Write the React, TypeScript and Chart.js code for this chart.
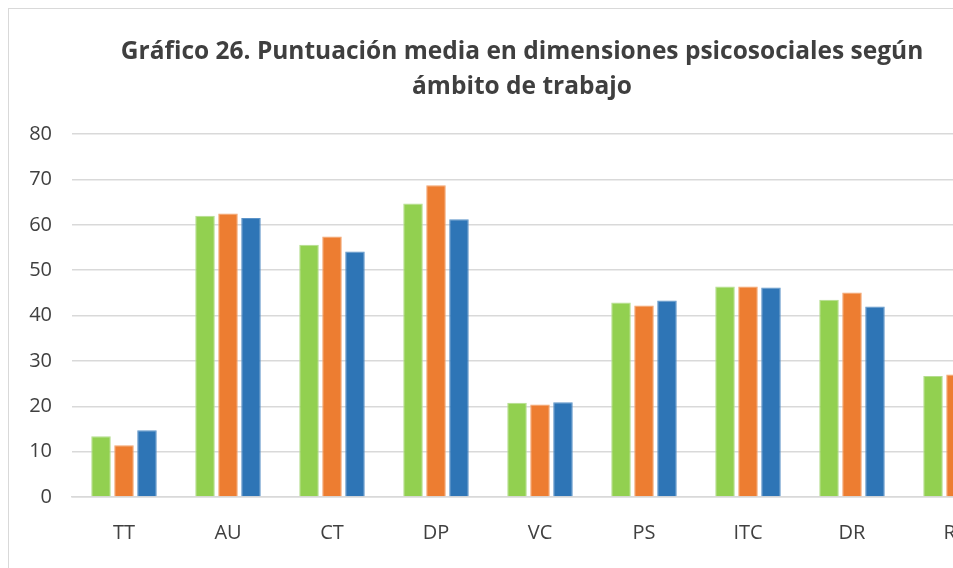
import React, { useEffect, useRef } from "react";
import { Chart, registerables } from "chart.js";

Chart.register(...registerables);

const categories = ["TT", "AU", "CT", "DP", "VC", "PS", "ITC", "DR", "RA"];
const serieVerde = [13.4, 62.0, 55.6, 64.7, 20.8, 42.9, 46.4, 43.5, 26.7];
const serieNaranja = [11.4, 62.5, 57.4, 68.7, 20.4, 42.2, 46.4, 45.1, 27.0];
const serieAzul = [14.7, 61.5, 54.1, 61.2, 20.9, 43.3, 46.2, 42.0, 25.6];
const yTicks = [0, 10, 20, 30, 40, 50, 60, 70, 80];
const titleLines = [
  "Gráfico 26. Puntuación media en dimensiones psicosociales según",
  "ámbito de trabajo",
];

const titleShift = {
  id: "titleShift",
  afterLayout(chart: any) {
    if (chart.titleBlock) chart.titleBlock.left += 27;
  },
};

export default function App() {
  const ref = useRef<HTMLCanvasElement | null>(null);
  useEffect(() => {
    if (!ref.current) return;
    const font = "'Open Sans', 'DejaVu Sans', sans-serif";
    const chart = new Chart(ref.current, {
      type: "bar",
      data: {
        labels: categories,
        datasets: [
          { label: "Serie 1", data: serieVerde, backgroundColor: "#92D050", borderColor: "#B4DD8E", borderWidth: 1 },
          { label: "Serie 2", data: serieNaranja, backgroundColor: "#ED7D31", borderColor: "#F3A36E", borderWidth: 1 },
          { label: "Serie 3", data: serieAzul, backgroundColor: "#2E75B6", borderColor: "#5B93C8", borderWidth: 1 },
        ],
      },
      plugins: [titleShift],
      options: {
        animation: false,
        responsive: false,
        maintainAspectRatio: false,
        layout: { padding: { left: 0, right: 29, top: 0, bottom: 20 } },
        datasets: { bar: { categoryPercentage: 0.663, barPercentage: 0.85 } },
        plugins: {
          legend: { display: false },
          tooltip: { enabled: false },
          title: {
            display: true,
            text: titleLines,
            color: "#3F3F3F",
            font: { family: font, size: 24.5, weight: "bold", lineHeight: 1.42 },
            padding: { top: 26, bottom: 29.5 },
          },
        },
        scales: {
          x: {
            grid: { display: false, drawTicks: false },
            border: { display: true, color: "#D9D9D9", width: 1.5 },
            ticks: { color: "#404040", font: { family: font, size: 20 }, padding: 24 },
          },
          y: {
            min: 0,
            max: 80,
            afterBuildTicks: (scale: any) => {
              scale.ticks = yTicks.map((v) => ({ value: v }));
            },
            afterFit: (scale: any) => {
              scale.width = 63;
            },
            grid: { color: "#D9D9D9", lineWidth: 1.5, drawTicks: false },
            border: { display: false },
            ticks: { color: "#404040", font: { family: font, size: 20 }, padding: 20 },
          },
        },
      },
    });
    return () => chart.destroy();
  }, []);
  return (
    <div style={{ position: "fixed", left: 0, top: 0, width: "100vw", height: "100vh", overflow: "hidden", background: "#fff" }}>
      <div style={{ position: "absolute", left: 8, top: 8, width: 1028, height: 620, border: "1px solid #D9D9D9", background: "#fff" }}>
        <canvas ref={ref} width={1028} height={580} style={{ display: "block" }} />
      </div>
    </div>
  );
}
